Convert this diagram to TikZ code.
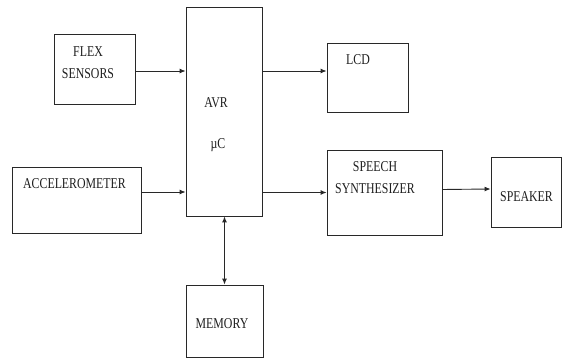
\documentclass[tikz,border=0pt]{standalone}
\usepackage{fontspec}
\setmainfont{Liberation Serif}[FakeStretch=0.79]
\usepackage{tikz}
\usetikzlibrary{arrows.meta}
\definecolor{boxline}{RGB}{40,40,40}
\definecolor{labeltext}{RGB}{30,30,30}
\tikzset{
  block/.style={draw=boxline, line width=0.9pt, inner sep=0pt},
  blocklabel/.style={text=labeltext, font=\fontsize{15}{22}\selectfont, align=center, inner sep=0pt},
  link/.style={draw=boxline, line width=0.9pt, -{Latex[length=6pt,width=5pt]}}
}

\begin{document}
\begin{tikzpicture}[x=1pt, y=-1pt]
      \useasboundingbox (0,0) rectangle (562,358);
      % Blocks (empty boxes, labels placed separately)
      \node[block, minimum width=81pt, minimum height=70pt]  (flex)    at (94.5,69)   {};
      \node[block, minimum width=129pt, minimum height=66pt] (accel)   at (76.5,200)  {};
      \node[block, minimum width=76pt, minimum height=209pt] (avr)     at (224,111.5) {};
      \node[block, minimum width=81pt, minimum height=69pt]  (lcd)     at (367.5,77.5) {};
      \node[block, minimum width=115pt, minimum height=85pt] (speech)  at (384.5,192.5) {};
      \node[block, minimum width=70pt, minimum height=70pt]  (speaker) at (526,192)   {};
      \node[block, minimum width=77pt, minimum height=72pt]  (memory)  at (224.5,321) {};
      % Labels
      \node[blocklabel] (flextext)    at (88,63)    {FLEX\\SENSORS};
      \node[blocklabel] (acceltext)   at (74.5,184) {ACCELEROMETER};
      \node[blocklabel] (avrtext)     at (216,103)  {AVR};
      \node[blocklabel] (uctext)      at (218,145)  {µC};
      \node[blocklabel] (lcdtext)     at (358,60)   {LCD};
      \node[blocklabel] (speechtext)  at (375,178)  {SPEECH\\SYNTHESIZER};
      \node[blocklabel] (speakertext) at (526.5,197) {SPEAKER};
      \node[blocklabel] (memorytext)  at (222,324)  {MEMORY};
      % Inputs into the controller
      \draw[link] ([yshift=-2pt]flex.east) -- ([yshift=-2pt]flex.east -| avr.west);
      \draw[link] ([yshift=8pt]accel.east) -- ([yshift=8pt]accel.east -| avr.west);
      % Outputs from the controller
      \draw[link] ([yshift=6.5pt]avr.east |- lcd.west) -- ([yshift=6.5pt]lcd.west);
      \draw[link] (avr.east |- speech.west) -- (speech.west);
      \draw[link] ([yshift=3pt]speech.east) -- ([yshift=3pt]speaker.west);
      % Memory link (both ways)
      \draw[link, {Latex[length=6pt,width=5pt]}-{Latex[length=6pt,width=5pt]}]
        (avr.south -| memory.north) -- (memory.north);
\end{tikzpicture}
\end{document}
